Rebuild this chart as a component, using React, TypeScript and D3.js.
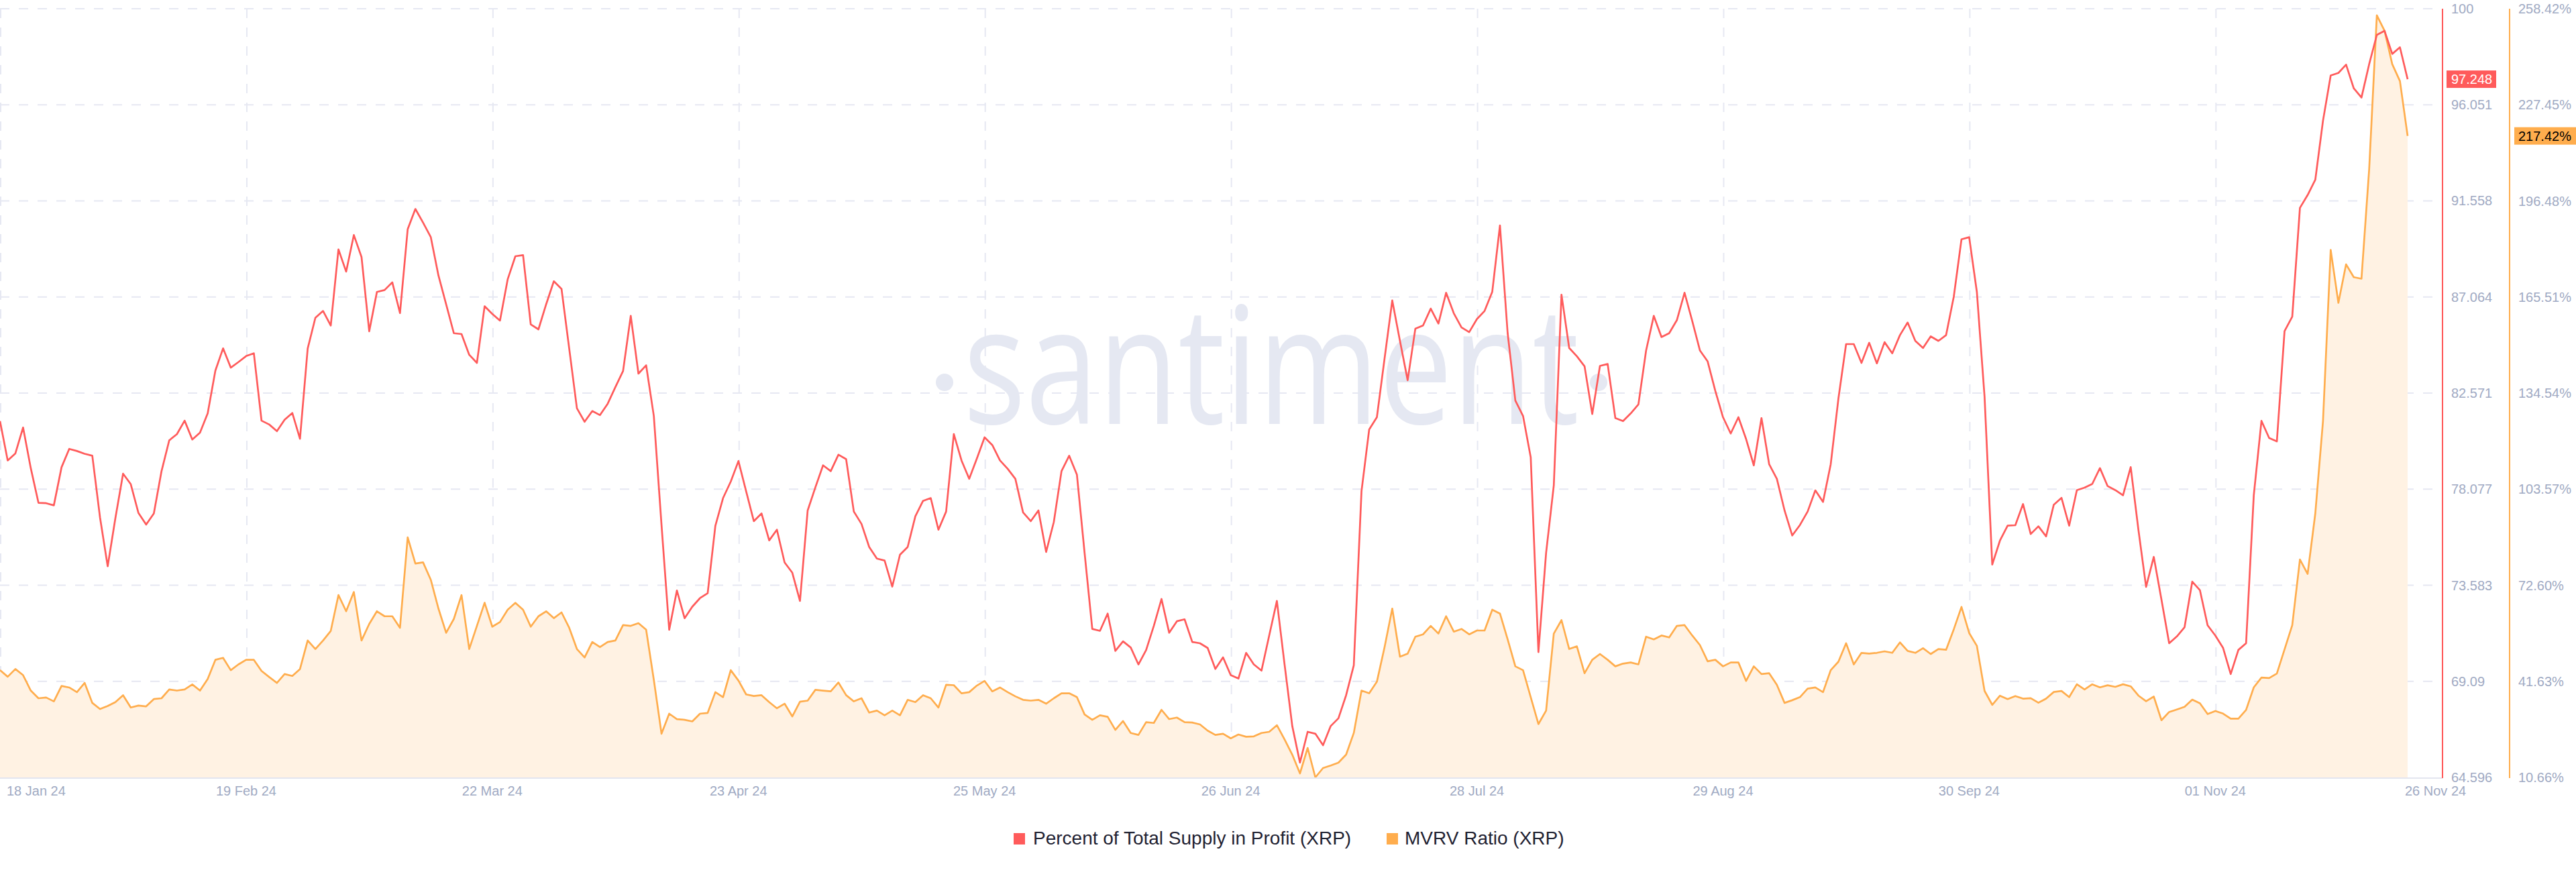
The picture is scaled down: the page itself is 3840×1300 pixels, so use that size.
import * as d3 from "d3";

const W = 3840;
const H = 1300;

// daily values, 18 Jan 24 .. 26 Nov 24
const startDate = new Date(Date.UTC(2024, 0, 18));

const profitPct = [
  81.26, 79.42, 79.75, 80.96, 79.06, 77.44, 77.42, 77.32, 79.1, 79.96,
  79.86, 79.73, 79.64, 76.76, 74.47, 76.72, 78.8, 78.31, 76.96, 76.42,
  76.94, 78.92, 80.36, 80.65, 81.28, 80.4, 80.72, 81.62, 83.62, 84.66,
  83.76, 84.02, 84.3, 84.43, 81.28, 81.1, 80.79, 81.32, 81.64, 80.43,
  84.65, 86.09, 86.41, 85.73, 89.29, 88.25, 89.96, 88.93, 85.46, 87.3,
  87.39, 87.75, 86.31, 90.23, 91.18, 90.54, 89.87, 88.07, 86.72, 85.37,
  85.33, 84.36, 83.98, 86.63, 86.27, 85.96, 87.89, 88.97, 89.02, 85.78,
  85.55, 86.72, 87.8, 87.44, 84.65, 81.86, 81.23, 81.73, 81.54, 82.07,
  82.85, 83.6, 86.18, 83.48, 83.87, 81.5, 76.4, 71.5, 73.34, 72.04,
  72.58, 72.98, 73.21, 76.36, 77.66, 78.43, 79.39, 77.98, 76.58, 76.94,
  75.68, 76.18, 74.65, 74.17, 72.85, 77.08, 78.16, 79.19, 78.92, 79.69,
  79.48, 77.03, 76.45, 75.37, 74.83, 74.74, 73.52, 75.01, 75.37, 76.81,
  77.53, 77.66, 76.18, 77.03, 80.65, 79.42, 78.56, 79.51, 80.5, 80.14,
  79.42, 79.03, 78.56, 76.99, 76.58, 77.08, 75.14, 76.54, 78.92, 79.64,
  78.76, 75.1, 71.54, 71.45, 72.26, 70.51, 70.96, 70.67, 69.88, 70.55,
  71.68, 72.94, 71.36, 71.9, 71.99, 70.93, 70.87, 70.65, 69.67, 70.21,
  69.38, 69.22, 70.42, 69.88, 69.59, 71.23, 72.85, 69.88, 67.0, 65.29,
  66.73, 66.64, 66.1, 67.0, 67.36, 68.44, 69.84, 77.98, 80.87, 81.44,
  84.19, 86.9, 85.01, 83.17, 85.58, 85.73, 86.52, 85.82, 87.26, 86.3,
  85.64, 85.42, 86.03, 86.41, 87.31, 90.41, 85.37, 82.22, 81.5, 79.57,
  70.46, 75.1, 78.25, 87.17, 84.68, 84.29, 83.82, 81.59, 83.84, 83.93,
  81.4, 81.26, 81.62, 82.04, 84.56, 86.18, 85.19, 85.37, 85.98, 87.26,
  85.94, 84.56, 84.05, 82.67, 81.44, 80.68, 81.44, 80.42, 79.19, 81.4,
  79.24, 78.56, 77.08, 75.91, 76.4, 77.03, 78.02, 77.48, 79.24, 82.31,
  84.86, 84.86, 83.98, 84.92, 83.96, 84.95, 84.43, 85.28, 85.87, 85.01,
  84.68, 85.22, 85.01, 85.28, 87.08, 89.76, 89.86, 87.3, 82.4, 74.55,
  75.67, 76.37, 76.39, 77.38, 75.98, 76.34, 75.87, 77.35, 77.67, 76.37,
  78.03, 78.15, 78.32, 79.06, 78.22, 78.03, 77.79, 79.11, 76.18, 73.51,
  74.91, 72.91, 70.87, 71.19, 71.62, 73.75, 73.35, 71.71, 71.23, 70.66,
  69.43, 70.56, 70.87, 77.79, 81.27, 80.47, 80.31, 85.47, 86.14, 91.23,
  91.83, 92.55, 95.31, 97.42, 97.54, 97.93, 96.82, 96.39, 97.95, 99.32,
  99.51, 98.43, 98.74, 97.248,
];

const mvrvPct = [
  45.23, 43.12, 45.6, 43.62, 38.65, 36.17, 36.42, 35.18, 40.14, 39.64,
  38.15, 41.13, 34.68, 32.7, 33.69, 34.93, 37.16, 33.19, 33.81, 33.56,
  35.92, 36.17, 39.02, 38.65, 39.02, 40.64, 38.65, 42.37, 48.57, 49.2,
  45.23, 47.09, 48.57, 48.57, 44.98, 43.0, 41.13, 43.99, 43.37, 45.6,
  54.79, 52.05, 54.79, 57.89, 69.43, 64.22, 70.42, 54.79, 60.12, 64.22,
  62.6, 62.6, 58.88, 88.04, 79.6, 79.98, 74.39, 65.09, 57.27, 61.73,
  69.43, 52.05, 59.5, 66.95, 59.25, 60.74, 64.72, 66.95, 64.72, 59.25,
  62.6, 64.22, 61.98, 63.84, 58.88, 52.05, 49.32, 54.29, 52.68, 54.29,
  54.79, 59.75, 59.5, 60.37, 58.26, 42.12, 24.75, 31.2, 29.46, 29.22,
  28.72, 31.2, 31.45, 38.15, 36.54, 45.23, 41.88, 37.41, 36.91, 37.16,
  34.93, 32.94, 34.43, 30.33, 35.05, 35.42, 38.9, 38.65, 38.4, 41.26,
  37.16, 35.18, 36.17, 31.57, 32.19, 30.7, 32.19, 30.7, 35.67, 34.93,
  37.16, 36.17, 33.19, 40.51, 40.39, 37.78, 38.15, 40.26, 41.75, 38.4,
  39.64, 38.15, 36.79, 35.67, 35.42, 35.67, 34.43, 36.17, 37.78, 37.78,
  36.54, 30.95, 29.22, 30.7, 30.21, 25.99, 28.84, 24.99, 24.37, 28.47,
  28.22, 32.44, 29.46, 29.96, 28.47, 28.35, 27.73, 25.74, 24.37, 24.75,
  23.26, 24.5, 23.76, 23.88, 24.99, 25.37, 27.48, 22.88, 18.0, 11.96,
  20.17, 10.66, 13.69, 14.5, 15.42, 18.0, 25.0, 38.65, 37.78, 41.5,
  52.67, 65.08, 49.57, 50.56, 56.02, 56.77, 59.5, 57.02, 62.6, 57.64,
  58.51, 56.77, 58.01, 58.01, 64.72, 63.47, 55.16, 46.47, 45.23, 36.54,
  27.85, 32.19, 57.02, 61.36, 52.05, 52.92, 44.24, 48.57, 50.44, 48.57,
  46.47, 47.34, 47.71, 47.09, 56.02, 55.16, 56.4, 55.78, 59.5, 59.75,
  56.4, 53.3, 48.08, 48.57, 46.47, 47.71, 47.71, 41.75, 46.47, 43.99,
  44.24, 40.51, 34.68, 35.55, 36.54, 39.27, 39.64, 38.15, 45.23, 47.96,
  53.92, 47.09, 50.81, 50.56, 50.81, 51.31, 50.81, 54.17, 51.43, 50.81,
  52.3, 50.44, 52.05, 51.8, 58.4, 65.6, 57.2, 53.07, 38.55, 34.06,
  37.0, 35.9, 36.88, 36.05, 36.21, 34.73, 36.05, 38.2, 38.53, 36.54,
  40.68, 39.03, 40.68, 39.69, 40.35, 39.85, 40.68, 40.02, 37.04, 35.22,
  36.71, 29.1, 31.75, 32.57, 33.4, 35.72, 34.56, 31.09, 32.08, 31.25,
  29.6, 29.6, 32.41, 39.69, 42.84, 42.67, 44.16, 51.94, 59.71, 80.89,
  76.26, 95.78, 125.56, 180.66, 163.62, 176.03, 171.89, 171.4, 206.64, 256.28,
  251.31, 240.56, 235.1, 217.42,
];

const dateTicks = [
  "2024-01-18", "2024-02-19", "2024-03-22", "2024-04-23", "2024-05-25",
  "2024-06-26", "2024-07-28", "2024-08-29", "2024-09-30", "2024-11-01",
];
const dateTickLabels = [
  "18 Jan 24", "19 Feb 24", "22 Mar 24", "23 Apr 24", "25 May 24",
  "26 Jun 24", "28 Jul 24", "29 Aug 24", "30 Sep 24", "01 Nov 24",
];
const endDateLabel = "26 Nov 24";

const profitTicks = [64.596, 69.09, 73.583, 78.077, 82.571, 87.064, 91.558, 96.051, 100.544];
const profitTickLabels = ["64.596", "69.09", "73.583", "78.077", "82.571", "87.064", "91.558", "96.051", "100"];
const mvrvTicks = [10.66, 41.63, 72.6, 103.57, 134.54, 165.51, 196.48, 227.45, 258.42];
const mvrvTickLabels = ["10.66%", "41.63%", "72.60%", "103.57%", "134.54%", "165.51%", "196.48%", "227.45%", "258.42%"];

const seriesNames = ["Percent of Total Supply in Profit (XRP)", "MVRV Ratio (XRP)"];

const RED = "#ff5b5b";
const ORANGE = "#ffad4d";
const FILL = "#fff2e3";
const GRID = "#e6e8f2";
const LABEL = "#a0aac3";
const FONT = "'Liberation Sans', Arial, sans-serif";

const plot = { left: 0, right: 3589, top: 13, bottom: 1159 };
const gridRight = 3630;
const redAxisX = 3641;
const orangeAxisX = 3741;

export default function App() {
  const dates = profitPct.map((_, i) => d3.utcDay.offset(startDate, i));
  const endDate = dates[dates.length - 1];

  const x = d3.scaleUtc().domain([startDate, endDate]).range([plot.left, plot.right]);
  const yProfit = d3
    .scaleLinear()
    .domain([profitTicks[0], profitTicks[profitTicks.length - 1]])
    .range([plot.bottom, plot.top]);
  const yMvrv = d3
    .scaleLinear()
    .domain([mvrvTicks[0], mvrvTicks[mvrvTicks.length - 1]])
    .range([plot.bottom, plot.top]);

  const profitLine = d3
    .line<number>()
    .x((_, i) => x(dates[i]))
    .y((d) => yProfit(d))(profitPct) as string;
  const mvrvLine = d3
    .line<number>()
    .x((_, i) => x(dates[i]))
    .y((d) => yMvrv(d))(mvrvPct) as string;
  const mvrvArea = d3
    .area<number>()
    .x((_, i) => x(dates[i]))
    .y0(plot.bottom)
    .y1((d) => yMvrv(d))(mvrvPct) as string;

  const lastProfit = profitPct[profitPct.length - 1];
  const lastMvrv = mvrvPct[mvrvPct.length - 1];
  const tickDates = dateTicks.map((s) => new Date(s + "T00:00:00Z"));

  return (
    <div style={{ position: "absolute", left: 0, top: 0 }}>
      <svg width={W} height={H} style={{ display: "block", background: "#fff" }} fontFamily={FONT}>
        {/* horizontal grid */}
        {profitTicks.slice(1).map((t, i) => (
          <line
            key={"h" + i}
            x1={plot.left}
            x2={gridRight}
            y1={yProfit(t)}
            y2={yProfit(t)}
            stroke={GRID}
            strokeWidth={2}
            strokeDasharray="14 14"
          />
        ))}
        {/* vertical grid */}
        {tickDates.map((d, i) => (
          <line
            key={"v" + i}
            x1={x(d) + 1}
            x2={x(d) + 1}
            y1={plot.top}
            y2={plot.bottom}
            stroke={GRID}
            strokeWidth={2}
            strokeDasharray="14 14"
          />
        ))}

        {/* watermark */}
        <g fill="#e5e8f2">
          <circle cx={1408} cy={570} r={13} />
          <text
            x={1436}
            y={632}
            fontFamily="'Open Sans', sans-serif"
            fontSize={243}
            textLength={918}
            lengthAdjust="spacingAndGlyphs"
          >
            santiment
          </text>
          <circle cx={2383} cy={570} r={13} />
        </g>

        <path d={mvrvArea} fill={FILL} />
        <path d={mvrvLine} fill="none" stroke={ORANGE} strokeWidth={2.7} strokeLinejoin="round" />
        <path d={profitLine} fill="none" stroke={RED} strokeWidth={2.7} strokeLinejoin="round" />

        {/* bottom axis */}
        <line x1={0} x2={redAxisX} y1={plot.bottom + 1} y2={plot.bottom + 1} stroke="#e3e5ef" strokeWidth={2} />
        {tickDates.map((d, i) => (
          <text
            key={"xl" + i}
            x={i === 0 ? 10 : x(d)}
            y={1186}
            fontSize={20}
            fill={LABEL}
            textAnchor={i === 0 ? "start" : "middle"}
          >
            {dateTickLabels[i]}
          </text>
        ))}
        <text x={x(endDate) - 4} y={1186} fontSize={20} fill={LABEL}>
          {endDateLabel}
        </text>

        {/* right axes */}
        <line x1={redAxisX} x2={redAxisX} y1={plot.top} y2={plot.bottom + 1} stroke={RED} strokeWidth={2} />
        <line x1={orangeAxisX} x2={orangeAxisX} y1={plot.top} y2={plot.bottom + 1} stroke={ORANGE} strokeWidth={2} />
        {profitTicks.map((t, i) => (
          <text
            key={"pl" + i}
            x={redAxisX + 13}
            y={yProfit(t)}
            dy="0.35em"
            fontSize={20}
            fill={LABEL}
          >
            {profitTickLabels[i]}
          </text>
        ))}
        {mvrvTicks.map((t, i) => (
          <text
            key={"ml" + i}
            x={orangeAxisX + 13}
            y={yMvrv(t)}
            dy="0.35em"
            fontSize={20}
            fill={LABEL}
          >
            {mvrvTickLabels[i]}
          </text>
        ))}

        {/* last value badges */}
        <rect x={redAxisX + 6} y={yProfit(lastProfit) - 13} width={74} height={26} fill={RED} />
        <text x={redAxisX + 13} y={yProfit(lastProfit)} dy="0.35em" fontSize={20} fill="#fff">
          {d3.format(".3f")(lastProfit)}
        </text>
        <rect x={orangeAxisX + 7} y={yMvrv(lastMvrv) - 13} width={W - orangeAxisX - 7} height={26} fill={ORANGE} />
        <text x={orangeAxisX + 13} y={yMvrv(lastMvrv)} dy="0.35em" fontSize={20} fill="#000">
          {d3.format(".2f")(lastMvrv) + "%"}
        </text>

        {/* legend */}
        <rect x={1511} y={1242} width={17} height={17} fill={RED} />
        <text x={1540} y={1259} fontSize={28} fill="#1f2232">
          {seriesNames[0]}
        </text>
        <rect x={2067} y={1242} width={17} height={17} fill={ORANGE} />
        <text x={2094} y={1259} fontSize={28} fill="#1f2232">
          {seriesNames[1]}
        </text>
      </svg>
    </div>
  );
}
